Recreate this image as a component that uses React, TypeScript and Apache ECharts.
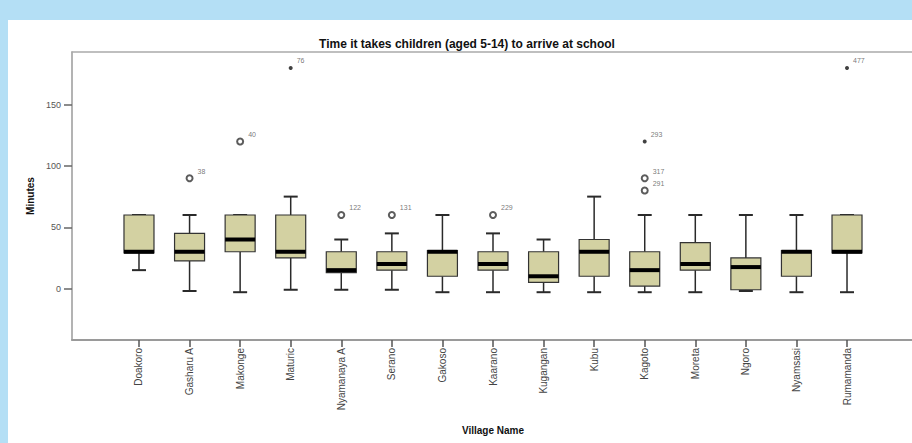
import React, { useEffect, useRef } from "react";
import * as echarts from "echarts";

const villages = [
  "Doakoro", "Gasharu A", "Makonge", "Maturic", "Nyamanaya A", "Serano", "Gakoso",
  "Kaarano", "Kugangan", "Kubu", "Kagoto", "Moreta", "Ngoro", "Nyamsasi", "Rumamanda",
];
const lowWhisker = [15, -2, -3, -1, -1, -1, -3, -3, -3, -3, -3, -3, -2, -3, -3];
const q1 = [29, 22.5, 30, 25, 13, 15, 10, 15, 5, 10, 2, 15, -1, 10, 29];
const median = [30, 30, 40, 30, 15, 20, 30, 20, 10, 30, 15, 20, 17.5, 30, 30];
const q3 = [60, 45, 60, 60, 30, 30, 31, 30, 30, 40, 30, 37.5, 25, 31, 60];
const highWhisker = [60, 60, 60, 75, 40, 45, 60, 45, 40, 75, 60, 60, 60, 60, 60];

const outlierVillage = [1, 2, 3, 4, 5, 7, 10, 10, 10, 14];
const outlierValue = [90, 120, 180, 60, 60, 60, 120, 90, 80, 180];
const outlierCase = ["38", "40", "76", "122", "131", "229", "293", "317", "291", "477"];
const outlierKind = ["o", "o", "*", "o", "o", "o", "*", "o", "o", "*"];

const yTicks = [0, 50, 100, 150];

export default function App() {
  const ref = useRef<HTMLDivElement>(null);
  useEffect(() => {
    if (!ref.current) return;
    const chart = echarts.init(ref.current, null, { renderer: "svg" });
    const font = "'Liberation Sans', Arial, sans-serif";
    const boxData = villages.map((_, i) => [i, lowWhisker[i], q1[i], median[i], q3[i], highWhisker[i]]);
    const points = outlierVillage.map((v, i) => ({ value: [v, outlierValue[i]], name: outlierCase[i], kind: outlierKind[i] }));
    const mild = points.filter((d) => d.kind === "o").map((d) => ({ value: d.value, name: d.name }));
    const extreme = points.filter((d) => d.kind === "*").map((d) => ({ value: d.value, name: d.name }));
    const outLabel = {
      show: true,
      position: "right" as const,
      offset: [-1, -7],
      formatter: (p: any) => p.name,
      fontSize: 7,
      color: "#555555",
      fontFamily: font,
    };
    chart.setOption({
      animation: false,
      backgroundColor: "#b4dff5",
      graphic: [
        { type: "rect", shape: { x: 8, y: 20, width: 910, height: 430 }, style: { fill: "#ffffff" }, z: -10 },
      ],
      title: {
        text: "Time it takes children (aged 5-14) to arrive at school",
        left: 462,
        top: 33,
        textAlign: "center",
        textStyle: { fontSize: 12, fontWeight: "bold", color: "#111", fontFamily: font },
      },
      grid: [
        { left: 72, top: 52, right: -4, bottom: 103 },
        { left: 113.7, width: 758.6, top: 52, bottom: 103 },
      ],
      xAxis: [
        {
          gridIndex: 0, type: "value", min: 0, max: 1,
          axisLine: { show: true, onZero: false, lineStyle: { color: "#9a9a9a", width: 2 } },
          axisTick: { show: false }, axisLabel: { show: false }, splitLine: { show: false },
        },
        {
          gridIndex: 0, type: "value", min: 0, max: 1, position: "top",
          axisLine: { show: true, onZero: false, lineStyle: { color: "#aaaaaa", width: 1.5 } },
          axisTick: { show: false }, axisLabel: { show: false }, splitLine: { show: false },
        },
        {
          gridIndex: 1, type: "category", data: villages, boundaryGap: true,
          axisLine: { show: false, onZero: false },
          axisTick: { show: true, alignWithLabel: true, length: 7, lineStyle: { color: "#555", width: 1.5 } },
          axisLabel: { rotate: 90, fontSize: 10, color: "#444", margin: 8, interval: 0, fontFamily: font },
          name: "Village Name",
          nameLocation: "middle",
          nameGap: 85,
          nameTextStyle: { fontSize: 10, fontWeight: "bold", color: "#111", fontFamily: font },
        },
      ],
      yAxis: [
        {
          gridIndex: 0, type: "value", min: -42, max: 193,
          axisLine: { show: true, lineStyle: { color: "#9a9a9a", width: 1.5 } },
          axisTick: { show: true, length: 8, customValues: yTicks, lineStyle: { color: "#666", width: 1.5 } },
          axisLabel: { customValues: yTicks, fontSize: 9, color: "#555", margin: 11, fontFamily: font },
          splitLine: { show: false },
          name: "Minutes",
          nameLocation: "middle",
          nameRotate: 90,
          nameGap: 34,
          nameTextStyle: { fontSize: 10, fontWeight: "bold", color: "#111", fontFamily: font },
        },
        {
          gridIndex: 1, type: "value", min: -42, max: 193, show: false,
        },
      ],
      series: [
        {
          type: "custom",
          xAxisIndex: 2,
          yAxisIndex: 1,
          data: boxData,
          encode: { x: 0, y: [1, 2, 3, 4, 5] },
          renderItem: (params: any, api: any) => {
            const i = api.value(0);
            const lo = api.coord([i, api.value(1)]);
            const b1 = api.coord([i, api.value(2)]);
            const md = api.coord([i, api.value(3)]);
            const b3 = api.coord([i, api.value(4)]);
            const hi = api.coord([i, api.value(5)]);
            const cx = lo[0];
            const bw = 30;
            const cw = 14;
            const wStyle = { stroke: "#2a2a2a", lineWidth: 1.5 };
            return {
              type: "group",
              children: [
                { type: "line", shape: { x1: cx, y1: hi[1], x2: cx, y2: b3[1] }, style: wStyle },
                { type: "line", shape: { x1: cx, y1: b1[1], x2: cx, y2: lo[1] }, style: wStyle },
                { type: "line", shape: { x1: cx - cw / 2, y1: hi[1], x2: cx + cw / 2, y2: hi[1] }, style: { stroke: "#2a2a2a", lineWidth: 2 } },
                { type: "line", shape: { x1: cx - cw / 2, y1: lo[1], x2: cx + cw / 2, y2: lo[1] }, style: { stroke: "#2a2a2a", lineWidth: 2 } },
                {
                  type: "rect",
                  shape: { x: cx - bw / 2, y: b3[1], width: bw, height: b1[1] - b3[1] },
                  style: { fill: "#d3d1a2", stroke: "#333", lineWidth: 1.2 },
                },
                { type: "line", shape: { x1: cx - bw / 2, y1: md[1], x2: cx + bw / 2, y2: md[1] }, style: { stroke: "#000", lineWidth: 4 } },
              ],
            };
          },
          z: 2,
        },
        {
          type: "scatter",
          xAxisIndex: 2,
          yAxisIndex: 1,
          data: mild,
          symbol: "emptyCircle",
          symbolSize: 6,
          itemStyle: { color: "#333333", borderColor: "#333333", borderWidth: 1.3 },
          label: outLabel,
          z: 3,
        },
        {
          type: "scatter",
          xAxisIndex: 2,
          yAxisIndex: 1,
          data: extreme,
          symbol: "circle",
          symbolSize: 4,
          itemStyle: { color: "#111111" },
          label: outLabel,
          z: 3,
        },
      ],
    });
    return () => chart.dispose();
  }, []);
  return <div ref={ref} style={{ position: "absolute", left: 0, top: 0, width: 912, height: 443 }} />;
}
